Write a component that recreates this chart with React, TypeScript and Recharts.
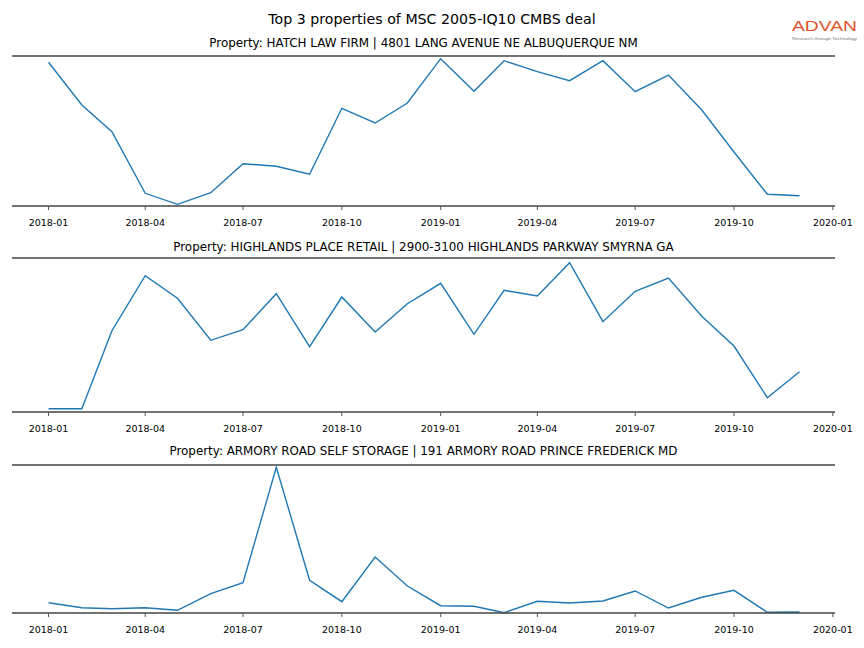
import React from "react";
import { LineChart, Line, XAxis, YAxis, ReferenceLine } from "recharts";

const months = [
  "2018-01", "2018-02", "2018-03", "2018-04", "2018-05", "2018-06",
  "2018-07", "2018-08", "2018-09", "2018-10", "2018-11", "2018-12",
  "2019-01", "2019-02", "2019-03", "2019-04", "2019-05", "2019-06",
  "2019-07", "2019-08", "2019-09", "2019-10", "2019-11", "2019-12",
];

const hatchLawFirm = [
  143.7, 101, 74.3, 12.7, 1.7, 13.3, 42.3, 39.7, 31.7, 97.7, 83, 103,
  147.3, 114.7, 145.3, 134.3, 125.3, 145.3, 114.3, 131, 96, 54, 11.7, 10.3,
];
const highlandsPlace = [
  3.3, 3.3, 81.3, 136.3, 113.7, 71.7, 82.3, 118.3, 65.3, 115, 80, 108.3,
  128.7, 77.7, 121.7, 116, 149.3, 90.3, 120.7, 134, 95.7, 66, 14.3, 40.3,
];
const armoryRoad = [
  10.3, 5.3, 4.3, 5.3, 2.7, 19.3, 30.3, 145.7, 32.7, 11.3, 56, 27,
  7.3, 6.7, 0.3, 11.7, 10, 12, 22, 5, 15.7, 22.7, 0.7, 1,
];

const tickLabels = [
  "2018-01", "2018-04", "2018-07", "2018-10",
  "2019-01", "2019-04", "2019-07", "2019-10", "2020-01",
];

const titles = [
  "Property: HATCH LAW FIRM | 4801 LANG AVENUE NE ALBUQUERQUE NM",
  "Property: HIGHLANDS PLACE RETAIL | 2900-3100 HIGHLANDS PARKWAY SMYRNA GA",
  "Property: ARMORY ROAD SELF STORAGE | 191 ARMORY ROAD PRINCE FREDERICK MD",
];

const toTime = (s: string) => {
  const [y, m] = s.split("-").map(Number);
  return Date.UTC(y, m - 1, 1);
};

const DAY = 86400000;
const xDomain = [toTime("2018-01") - 34 * DAY, toTime("2020-01") + 2 * DAY];
const ticks = tickLabels.map(toTime);

const fmt = (t: number) => {
  const d = new Date(t);
  return `${d.getUTCFullYear()}-${String(d.getUTCMonth() + 1).padStart(2, "0")}`;
};

const FONT = "DejaVu Sans";
const SPINE = "#444";

function Panel({ values, top, bottom, yMax }: { values: number[]; top: number; bottom: number; yMax: number }) {
  const data = months.map((m, i) => ({ t: toTime(m), v: values[i] }));
  const pad = 6;
  const axisH = 30;
  return (
    <div style={{ position: "absolute", left: 0, top: top - pad }}>
      <LineChart
        width={864}
        height={bottom - top + pad + axisH}
        data={data}
        margin={{ top: pad, right: 29, left: 12, bottom: 0 }}
      >
        <XAxis
          dataKey="t"
          type="number"
          scale="time"
          domain={xDomain}
          ticks={ticks}
          tickFormatter={fmt}
          height={axisH}
          tick={{ fontSize: 9.5, fill: "#000", fontFamily: FONT }}
          tickSize={4}
          tickMargin={9}
          tickLine={{ stroke: "#555" }}
          axisLine={{ stroke: SPINE, strokeWidth: 1.4 }}
          allowDataOverflow
        />
        <YAxis hide domain={[0, yMax]} />
        <ReferenceLine y={yMax} stroke={SPINE} strokeWidth={1.4} />
        <Line
          type="linear"
          dataKey="v"
          stroke="#1f77b4"
          strokeWidth={1.4}
          dot={false}
          isAnimationActive={false}
        />
      </LineChart>
    </div>
  );
}

export default function App() {
  return (
    <div style={{ position: "absolute", left: 0, top: 0, width: 864, height: 648, background: "#fff", fontFamily: FONT }}>
      <Panel values={hatchLawFirm} top={56} bottom={206} yMax={150} />
      <Panel values={highlandsPlace} top={258} bottom={412} yMax={154} />
      <Panel values={armoryRoad} top={465} bottom={613} yMax={148} />
      <svg width={864} height={648} style={{ position: "absolute", left: 0, top: 0, pointerEvents: "none" }}>
        <text x={432} y={24} textAnchor="middle" fontSize={14.2} fontFamily={FONT} fill="#000">
          Top 3 properties of MSC 2005-IQ10 CMBS deal
        </text>
        {titles.map((t, i) => (
          <text key={t} x={423.5} y={[46.5, 250.5, 454.5][i]} textAnchor="middle" fontSize={11.9} fontFamily={FONT} fill="#000">
            {t}
          </text>
        ))}
        <text x={792} y={31} fontSize={14} fontFamily="Liberation Sans" fill="#e2532d" textLength={65} lengthAdjust="spacingAndGlyphs">
          ADVAN
        </text>
        <text x={792} y={39.5} fontSize={4} fontFamily="Liberation Sans" fill="#777" textLength={65} lengthAdjust="spacingAndGlyphs">
          Research through Technology
        </text>
      </svg>
    </div>
  );
}
